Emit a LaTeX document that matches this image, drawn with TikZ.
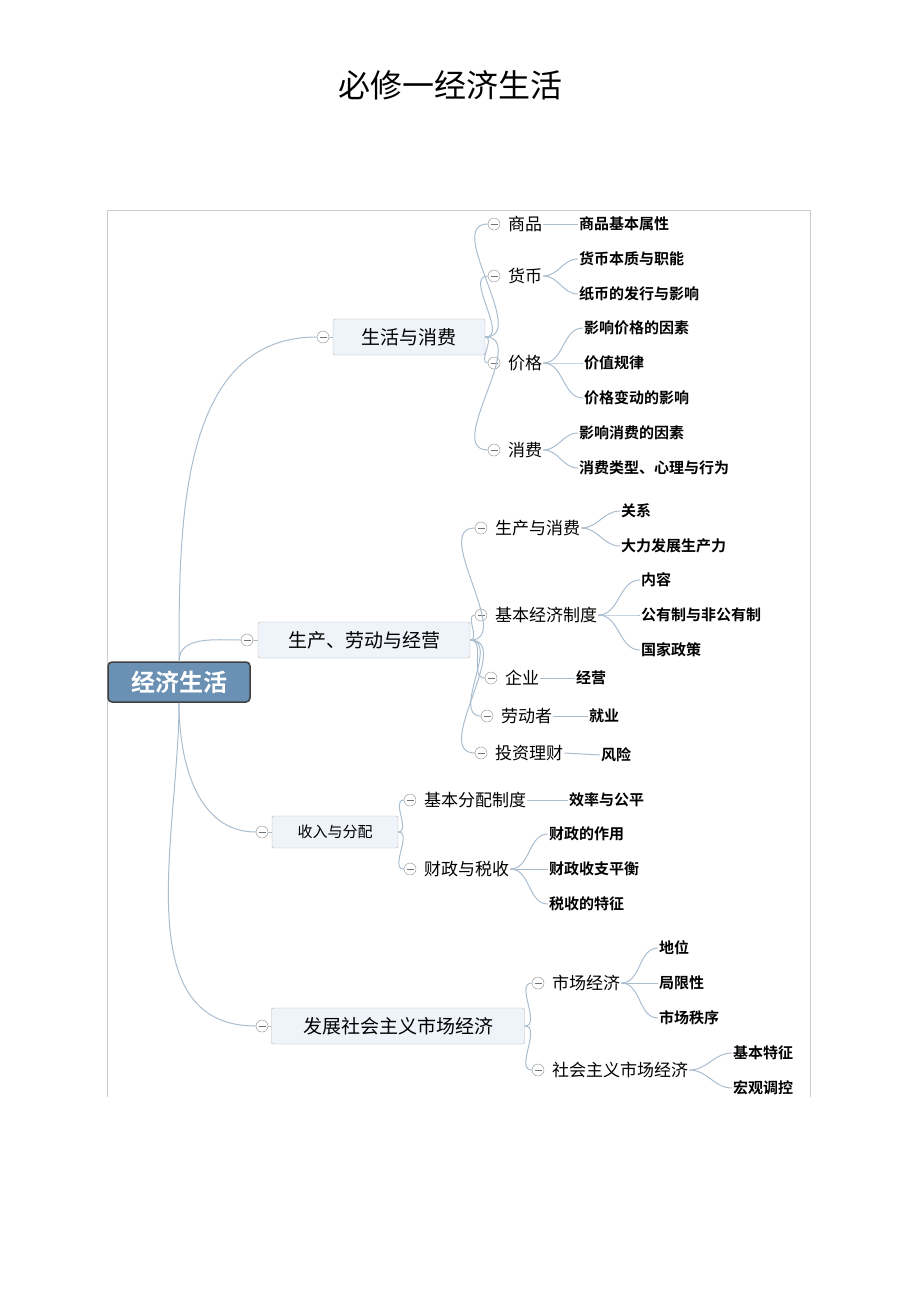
\documentclass[tikz,border=0pt]{standalone}
\usepackage{fontspec}
\setmainfont{Noto Sans CJK SC}
\newfontfamily\boldcjk{Noto Sans CJK SC Bold}
\usetikzlibrary{positioning}
\definecolor{rootblue}{HTML}{6A90B3}
\definecolor{topicfill}{HTML}{EEF4FA}
\definecolor{linkblue}{HTML}{A9BDCF}

\begin{document}
\begin{tikzpicture}[x=1pt,y=-1pt]
  % Styles
  \tikzset{
    topic/.style={draw=black!30,fill=topicfill,rounded corners=2pt,minimum height=36pt,font=\fontsize{19}{20}\selectfont},
    sub/.style={anchor=west,inner sep=1pt,font=\fontsize{17}{19}\selectfont},
    leaf/.style={anchor=west,inner sep=1pt,font=\boldcjk\fontsize{15}{18}\selectfont},
    fold/.style={circle,draw=black!45,fill=white,minimum size=12pt,inner sep=0pt,
      path picture={\draw[black!55] ([xshift=-3.5pt]path picture bounding box.center) -- ([xshift=3.5pt]path picture bounding box.center);}},
    link/.style={draw=linkblue,line width=1pt}
  }
  \useasboundingbox (0,0) rectangle (920,1304);

  % Title and frame
  \node[font=\fontsize{32}{34}\selectfont] (title) at (450,85) {必修一经济生活};
  \draw[black!20] (107,1097) -- (107,210) -- (810,210) -- (810,1097);

  % Root
  \node[draw=black!75,fill=rootblue,text=white,rounded corners=4pt,line width=1.5pt,
    minimum width=142pt,minimum height=40pt,font=\boldcjk\fontsize{24}{26}\selectfont] (root) at (179,682) {经济生活};

  % Main topics
  \node[topic,minimum width=152pt] (life) at (409,337) {生活与消费};
  \node[fold] (flife) at (323,337) {};
  \node[topic,minimum width=212pt] (prod) at (364,640) {生产、劳动与经营};
  \node[fold] (fprod) at (247,640) {};
  \node[topic,minimum width=126pt,minimum height=32pt,font=\fontsize{15}{17}\selectfont] (income) at (335,832) {收入与分配};
  \node[fold] (fincome) at (262,832) {};
  \node[topic,minimum width=253pt] (market) at (398,1026) {发展社会主义市场经济};
  \node[fold] (fmarket) at (262,1026) {};

  \draw[link] (root.north) to[out=90,in=180] (flife.west);
  \draw[link] (root.north) to[out=90,in=180] (fprod.west);
  \draw[link] (root.south) to[out=-90,in=180] (fincome.west);
  \draw[link] (root.south) to[out=-90,in=180] (fmarket.west);
  \draw[link] (flife) -- (life); \draw[link] (fprod) -- (prod);
  \draw[link] (fincome) -- (income); \draw[link] (fmarket) -- (market);

  % Life and consumption
  \node[fold] (fgoods) at (494,224) {}; \node[sub] (goods) at (507,224) {商品};
  \node[fold] (fmoney) at (494,276) {}; \node[sub] (money) at (507,276) {货币};
  \node[fold] (fprice) at (494,363) {}; \node[sub] (price) at (507,363) {价格};
  \node[fold] (fcons) at (494,450) {}; \node[sub] (cons) at (507,450) {消费};
  \foreach \n in {fgoods,fmoney,fprice,fcons} \draw[link] (life.east) to[out=0,in=180] (\n.west);
  \node[leaf] (g1) at (578,224) {商品基本属性};
  \node[leaf] (m1) at (578,259) {货币本质与职能};
  \node[leaf] (m2) at (578,294) {纸币的发行与影响};
  \node[leaf] (p1) at (583,328) {影响价格的因素};
  \node[leaf] (p2) at (583,363) {价值规律};
  \node[leaf] (p3) at (583,398) {价格变动的影响};
  \node[leaf] (c1) at (578,433) {影响消费的因素};
  \node[leaf] (c2) at (578,468) {消费类型、心理与行为};
  \draw[link] (goods.east) -- (g1.west);
  \foreach \n in {m1,m2} \draw[link] (money.east) to[out=0,in=180] (\n.west);
  \foreach \n in {p1,p2,p3} \draw[link] (price.east) to[out=0,in=180] (\n.west);
  \foreach \n in {c1,c2} \draw[link] (cons.east) to[out=0,in=180] (\n.west);

  % Production, labour and business
  \node[fold] (fpc) at (481,528) {}; \node[sub] (pc) at (494,528) {生产与消费};
  \node[fold] (fsys) at (481,615) {}; \node[sub] (sys) at (494,615) {基本经济制度};
  \node[fold] (fent) at (491,678) {}; \node[sub] (ent) at (504,678) {企业};
  \node[fold] (fwork) at (487,716) {}; \node[sub] (work) at (500,716) {劳动者};
  \node[fold] (finv) at (481,753) {}; \node[sub] (inv) at (494,753) {投资理财};
  \foreach \n in {fpc,fsys,fent,fwork,finv} \draw[link] (prod.east) to[out=0,in=180] (\n.west);
  \node[leaf] (pc1) at (620,511) {关系};
  \node[leaf] (pc2) at (620,546) {大力发展生产力};
  \node[leaf] (s1) at (640,580) {内容};
  \node[leaf] (s2) at (640,615) {公有制与非公有制};
  \node[leaf] (s3) at (640,650) {国家政策};
  \node[leaf] (e1) at (575,678) {经营};
  \node[leaf] (w1) at (588,716) {就业};
  \node[leaf] (i1) at (600,755) {风险};
  \foreach \n in {pc1,pc2} \draw[link] (pc.east) to[out=0,in=180] (\n.west);
  \foreach \n in {s1,s2,s3} \draw[link] (sys.east) to[out=0,in=180] (\n.west);
  \draw[link] (ent.east) -- (e1.west);
  \draw[link] (work.east) -- (w1.west);
  \draw[link] (inv.east) -- (i1.west);

  % Income and distribution
  \node[fold] (fdist) at (410,800) {}; \node[sub] (dist) at (423,800) {基本分配制度};
  \node[fold] (ftax) at (410,869) {}; \node[sub] (tax) at (423,869) {财政与税收};
  \foreach \n in {fdist,ftax} \draw[link] (income.east) to[out=0,in=180] (\n.west);
  \node[leaf] (d1) at (568,800) {效率与公平};
  \node[leaf] (t1) at (548,834) {财政的作用};
  \node[leaf] (t2) at (548,869) {财政收支平衡};
  \node[leaf] (t3) at (548,904) {税收的特征};
  \draw[link] (dist.east) -- (d1.west);
  \foreach \n in {t1,t2,t3} \draw[link] (tax.east) to[out=0,in=180] (\n.west);

  % Socialist market economy
  \node[fold] (fme) at (538,983) {}; \node[sub] (me) at (551,983) {市场经济};
  \node[fold] (fsme) at (538,1070) {}; \node[sub] (sme) at (551,1070) {社会主义市场经济};
  \foreach \n in {fme,fsme} \draw[link] (market.east) to[out=0,in=180] (\n.west);
  \node[leaf] (me1) at (658,948) {地位};
  \node[leaf] (me2) at (658,983) {局限性};
  \node[leaf] (me3) at (658,1018) {市场秩序};
  \node[leaf] (sm1) at (732,1053) {基本特征};
  \node[leaf] (sm2) at (732,1088) {宏观调控};
  \foreach \n in {me1,me2,me3} \draw[link] (me.east) to[out=0,in=180] (\n.west);
  \foreach \n in {sm1,sm2} \draw[link] (sme.east) to[out=0,in=180] (\n.west);
\end{tikzpicture}
\end{document}
